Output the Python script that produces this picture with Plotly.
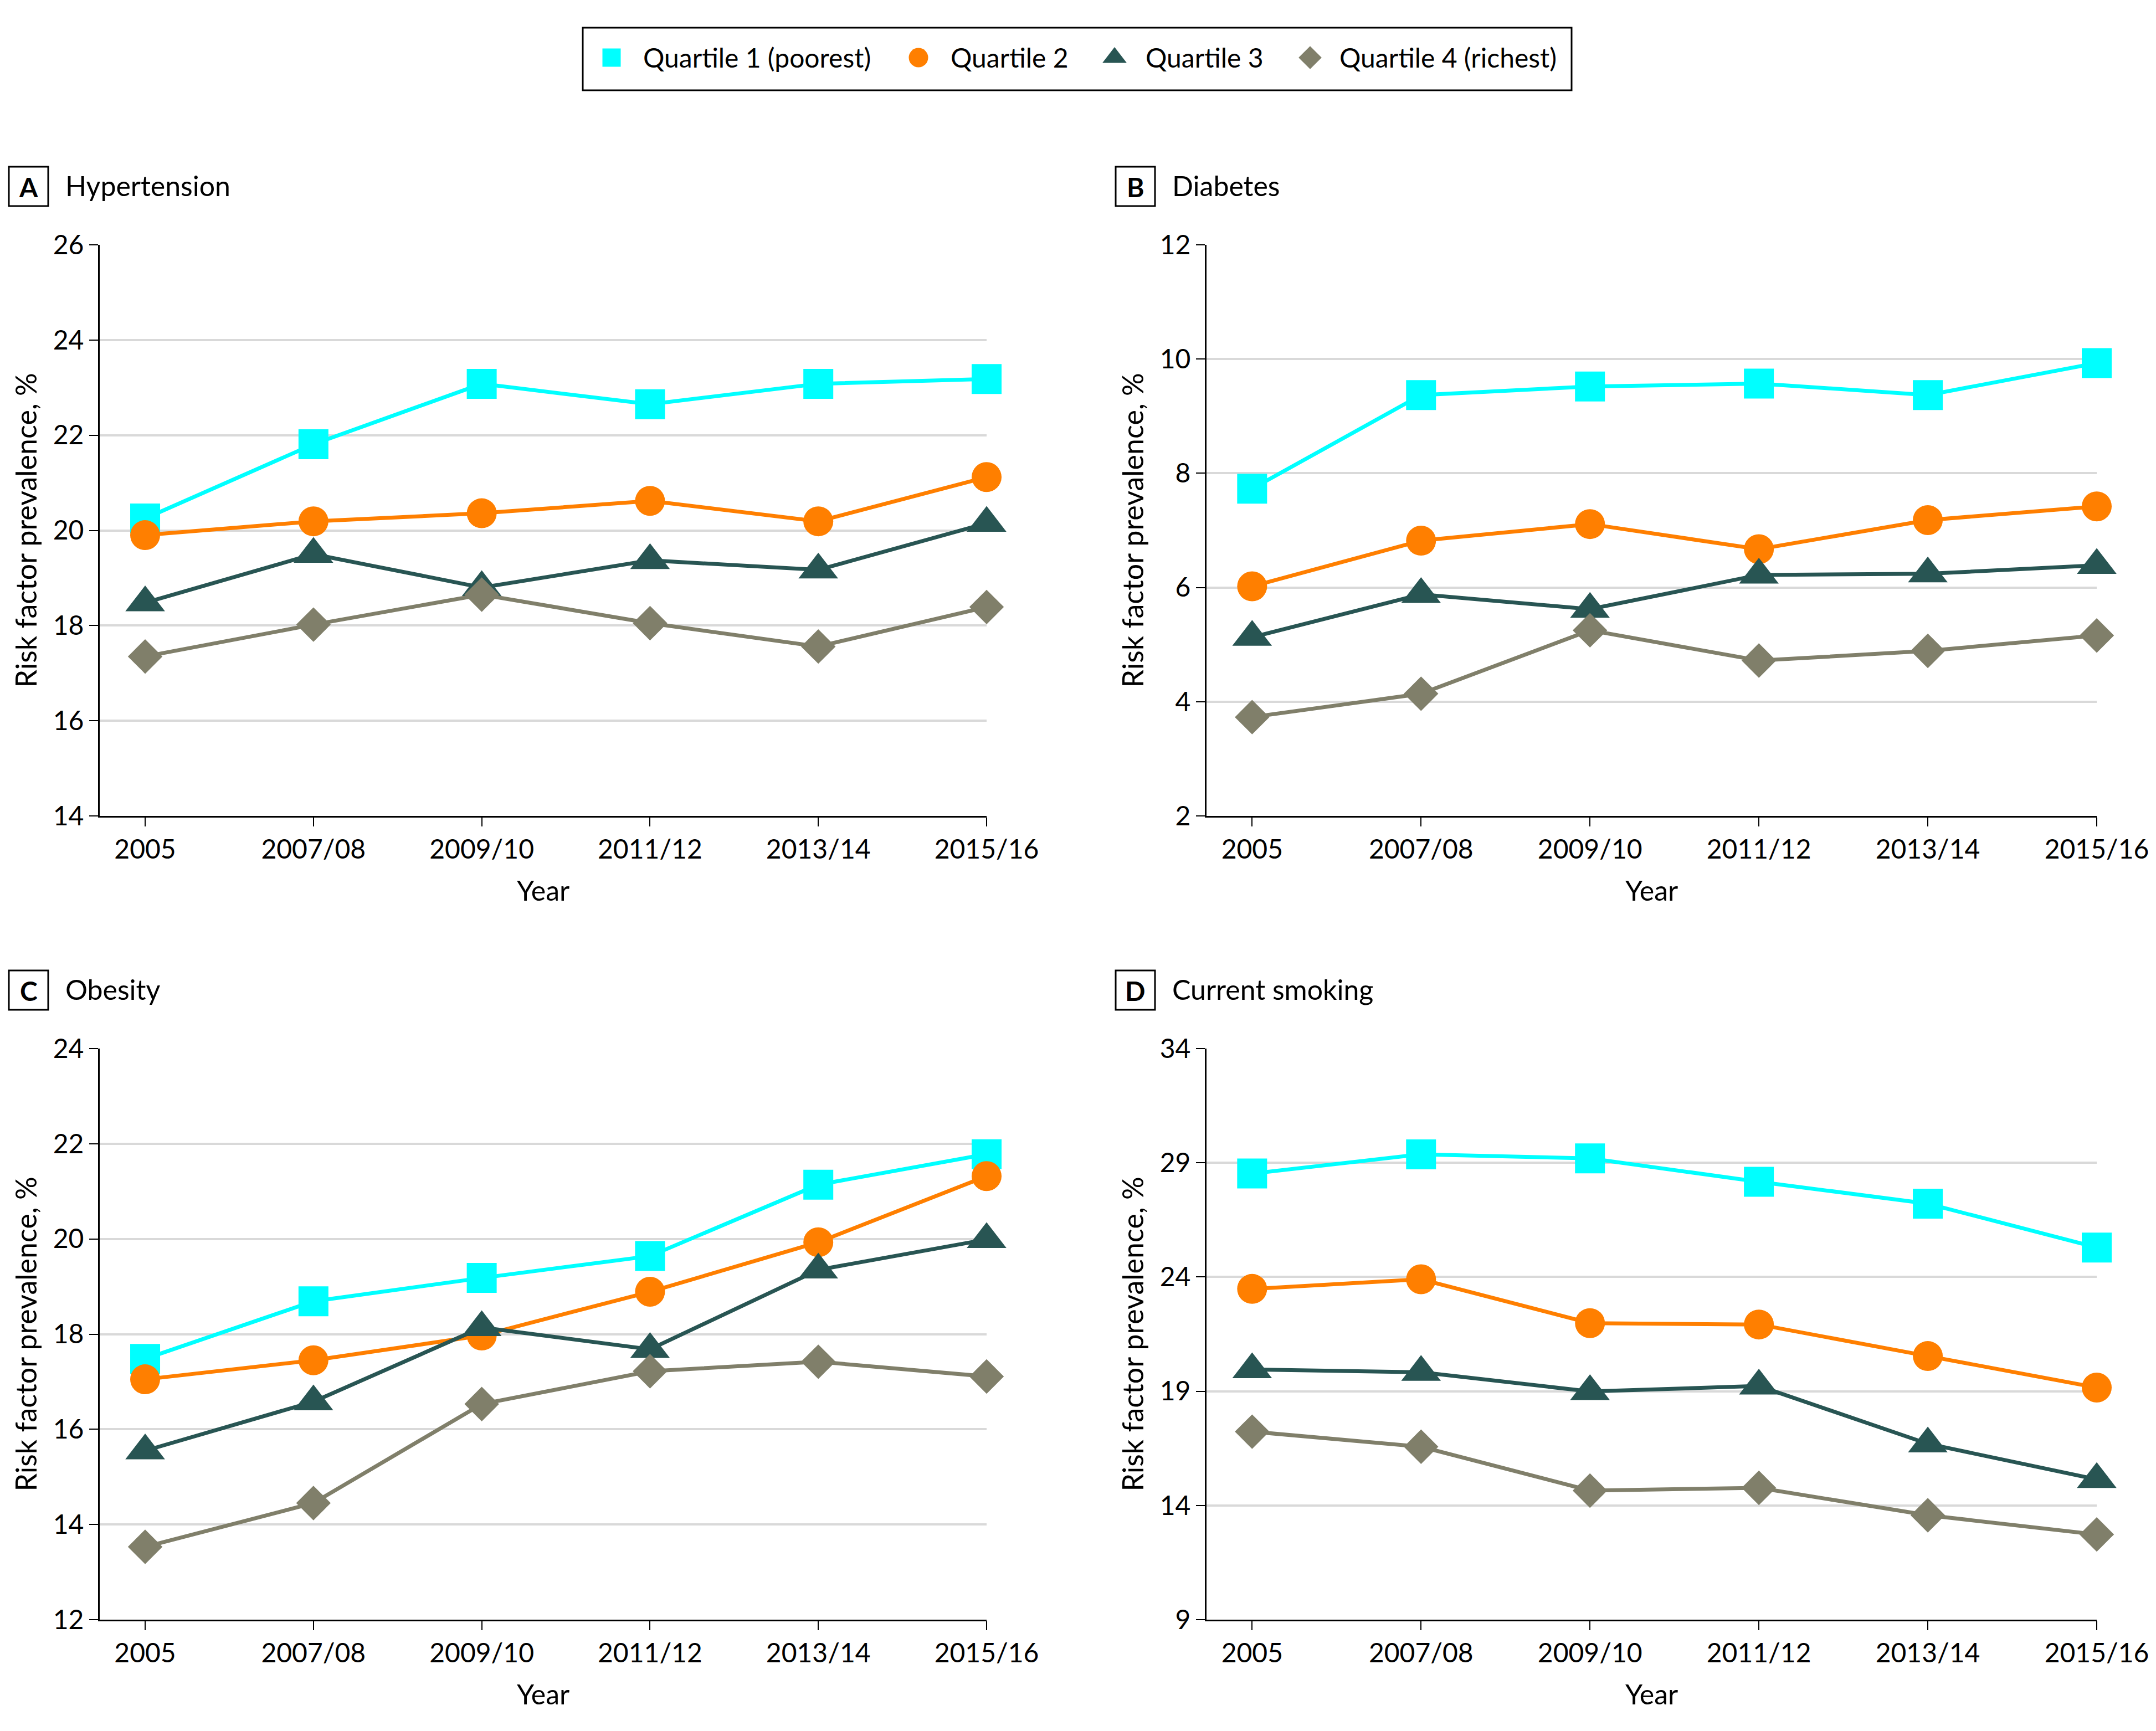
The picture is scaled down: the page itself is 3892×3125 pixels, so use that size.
import plotly.graph_objects as go

W, H = 3892, 3125

# ---------------- data ----------------
years = ["2005", "2007/08", "2009/10", "2011/12", "2013/14", "2015/16"]
series_names = ["Quartile 1 (poorest)", "Quartile 2", "Quartile 3", "Quartile 4 (richest)"]

hyp_q1 = [20.25, 21.81, 23.08, 22.65, 23.08, 23.18]
hyp_q2 = [19.90, 20.19, 20.36, 20.62, 20.19, 21.12]
hyp_q3 = [18.48, 19.50, 18.80, 19.37, 19.17, 20.15]
hyp_q4 = [17.35, 18.02, 18.65, 18.05, 17.56, 18.39]

dia_q1 = [7.73, 9.37, 9.52, 9.57, 9.37, 9.93]
dia_q2 = [6.02, 6.82, 7.11, 6.67, 7.18, 7.42]
dia_q3 = [5.13, 5.88, 5.62, 6.22, 6.24, 6.39]
dia_q4 = [3.73, 4.14, 5.25, 4.72, 4.89, 5.16]

obe_q1 = [17.48, 18.69, 19.18, 19.64, 21.14, 21.78]
obe_q2 = [17.05, 17.45, 17.97, 18.89, 19.93, 21.32]
obe_q3 = [15.55, 16.58, 18.14, 17.68, 19.35, 19.99]
obe_q4 = [13.53, 14.45, 16.53, 17.22, 17.42, 17.11]

smk_q1 = [28.53, 29.37, 29.19, 28.17, 27.21, 25.29]
smk_q2 = [23.48, 23.90, 21.98, 21.92, 20.54, 19.16]
smk_q3 = [19.95, 19.83, 18.99, 19.23, 16.70, 15.14]
smk_q4 = [17.23, 16.57, 14.65, 14.77, 13.57, 12.73]

panel_letters = ["A", "B", "C", "D"]
panel_titles = ["Hypertension", "Diabetes", "Obesity", "Current smoking"]
panel_data = [
    [hyp_q1, hyp_q2, hyp_q3, hyp_q4],
    [dia_q1, dia_q2, dia_q3, dia_q4],
    [obe_q1, obe_q2, obe_q3, obe_q4],
    [smk_q1, smk_q2, smk_q3, smk_q4],
]
y_ranges = [[14, 26], [2, 12], [12, 24], [9, 34]]
y_dticks = [2, 2, 2, 5]

# ---------------- styles ----------------
colors = ["#00FFFF", "#FF7F00", "#285553", "#807F6A"]
symbols = ["square", "circle", "triangle-up", "diamond"]
msizes = [54, 54, 62, 48]
leg_sizes = [33, 35, 38, 32]
FONT = "Lato, 'Liberation Sans', Arial, sans-serif"

# pixel geometry of plot areas
col_left = [180, 2178]
col_right = [1781, 3785]
row_top = [442, 1893]
row_bot = [1473, 2924]


def px(x):
    return x / W


def py(y):
    return 1 - y / H


fig = go.Figure()
layout_axes = {}
annotations = []
shapes = []

for i in range(4):
    r, c = divmod(i, 2)
    xa = "x" if i == 0 else f"x{i+1}"
    ya = "y" if i == 0 else f"y{i+1}"
    xkey = "xaxis" if i == 0 else f"xaxis{i+1}"
    ykey = "yaxis" if i == 0 else f"yaxis{i+1}"
    for k in range(4):
        fig.add_trace(go.Scatter(
            x=list(range(len(years))), y=panel_data[i][k],
            xaxis=xa, yaxis=ya, name=series_names[k],
            mode="lines+markers",
            line=dict(color=colors[k], width=7),
            marker=dict(symbol=symbols[k], size=msizes[k], color=colors[k],
                        opacity=1, line=dict(width=0)),
            cliponaxis=False, showlegend=False, hoverinfo="skip",
        ))
    layout_axes[xkey] = dict(
        domain=[px(col_left[c]), px(col_right[c])],
        anchor=ya, range=[-0.27, 5], automargin=False,
        tickmode="array", tickvals=list(range(len(years))), ticktext=years,
        showline=True, linecolor="black", linewidth=3,
        ticks="outside", ticklen=16, tickwidth=2, tickcolor="black",
        showgrid=False, zeroline=False, fixedrange=True,
        tickfont=dict(size=48, color="black", family=FONT),
    )
    layout_axes[ykey] = dict(
        domain=[py(row_bot[r]), py(row_top[r])],
        anchor=xa, range=y_ranges[i], dtick=y_dticks[i], tick0=y_ranges[i][0],
        automargin=False,
        showline=True, linecolor="black", linewidth=3,
        ticks="outside", ticklen=16, tickwidth=2, tickcolor="black",
        showgrid=True, gridcolor="#D9D9D9", gridwidth=4,
        zeroline=False, fixedrange=True,
        tickfont=dict(size=48, color="black", family=FONT),
    )
    # axis titles
    annotations.append(dict(
        text="Year", xref="paper", yref="paper",
        x=px((col_left[c] + col_right[c]) / 2), y=py(row_bot[r] + 134),
        xanchor="center", yanchor="middle", showarrow=False,
        font=dict(size=50, color="black", family=FONT),
    ))
    annotations.append(dict(
        text="Risk factor prevalence, %", xref="paper", yref="paper",
        x=px(col_left[c] - 135), y=py((row_top[r] + row_bot[r]) / 2),
        xanchor="center", yanchor="middle", textangle=-90, showarrow=False,
        font=dict(size=52, color="black", family=FONT),
    ))
    # panel label box and title
    bx0 = col_left[c] - 164
    by0 = row_top[r] - 141
    shapes.append(dict(type="rect", xref="paper", yref="paper",
                       x0=px(bx0), x1=px(bx0 + 71), y0=py(by0), y1=py(by0 + 71),
                       line=dict(color="black", width=3), fillcolor="white"))
    annotations.append(dict(
        text=f"<b>{panel_letters[i]}</b>", xref="paper", yref="paper",
        x=px(bx0 + 35.5), y=py(by0 + 36), xanchor="center", yanchor="middle",
        showarrow=False, font=dict(size=48, color="black", family=FONT),
    ))
    annotations.append(dict(
        text=panel_titles[i], xref="paper", yref="paper",
        x=px(bx0 + 100), y=py(by0 + 34), xanchor="left", yanchor="middle",
        showarrow=False, font=dict(size=50, color="black", family=FONT),
    ))

# ---------------- legend (drawn manually for large swatches) ----------------
leg_x0, leg_x1, leg_y0, leg_y1 = 1052, 2837, 50, 163
shapes.append(dict(type="rect", xref="paper", yref="paper",
                   x0=px(leg_x0), x1=px(leg_x1), y0=py(leg_y0), y1=py(leg_y1),
                   line=dict(color="black", width=3), fillcolor="rgba(0,0,0,0)"))
leg_marker_x = [1104, 1658, 2012, 2365]
leg_text_x = [1159, 1714, 2066, 2416]
leg_y = 104
fig.add_trace(go.Scatter(
    x=leg_marker_x, y=[leg_y] * 4, xaxis="x5", yaxis="y5", mode="markers",
    marker=dict(symbol=symbols, size=leg_sizes, color=colors, opacity=1, line=dict(width=0)),
    cliponaxis=False, showlegend=False, hoverinfo="skip",
))
layout_axes["xaxis5"] = dict(domain=[0, 1], range=[0, W], visible=False, fixedrange=True,
                             anchor="y5", automargin=False)
layout_axes["yaxis5"] = dict(domain=[0, 1], range=[H, 0], visible=False, fixedrange=True,
                             anchor="x5", automargin=False)
for k in range(4):
    annotations.append(dict(
        text=series_names[k], xref="paper", yref="paper",
        x=px(leg_text_x[k]), y=py(leg_y), xanchor="left", yanchor="middle",
        showarrow=False, font=dict(size=48, color="black", family=FONT),
    ))

fig.update_layout(
    width=W, height=H, autosize=False,
    margin=dict(l=0, r=0, t=0, b=0, pad=0, autoexpand=False),
    paper_bgcolor="white", plot_bgcolor="rgba(0,0,0,0)",
    showlegend=False,
    font=dict(family=FONT, color="black", size=48),
    annotations=annotations, shapes=shapes,
    **layout_axes,
)

fig.write_html(
    "out.html",
    config={"responsive": False, "displayModeBar": False},
    post_script="document.body.style.margin='0px';document.body.style.overflow='hidden';",
)
